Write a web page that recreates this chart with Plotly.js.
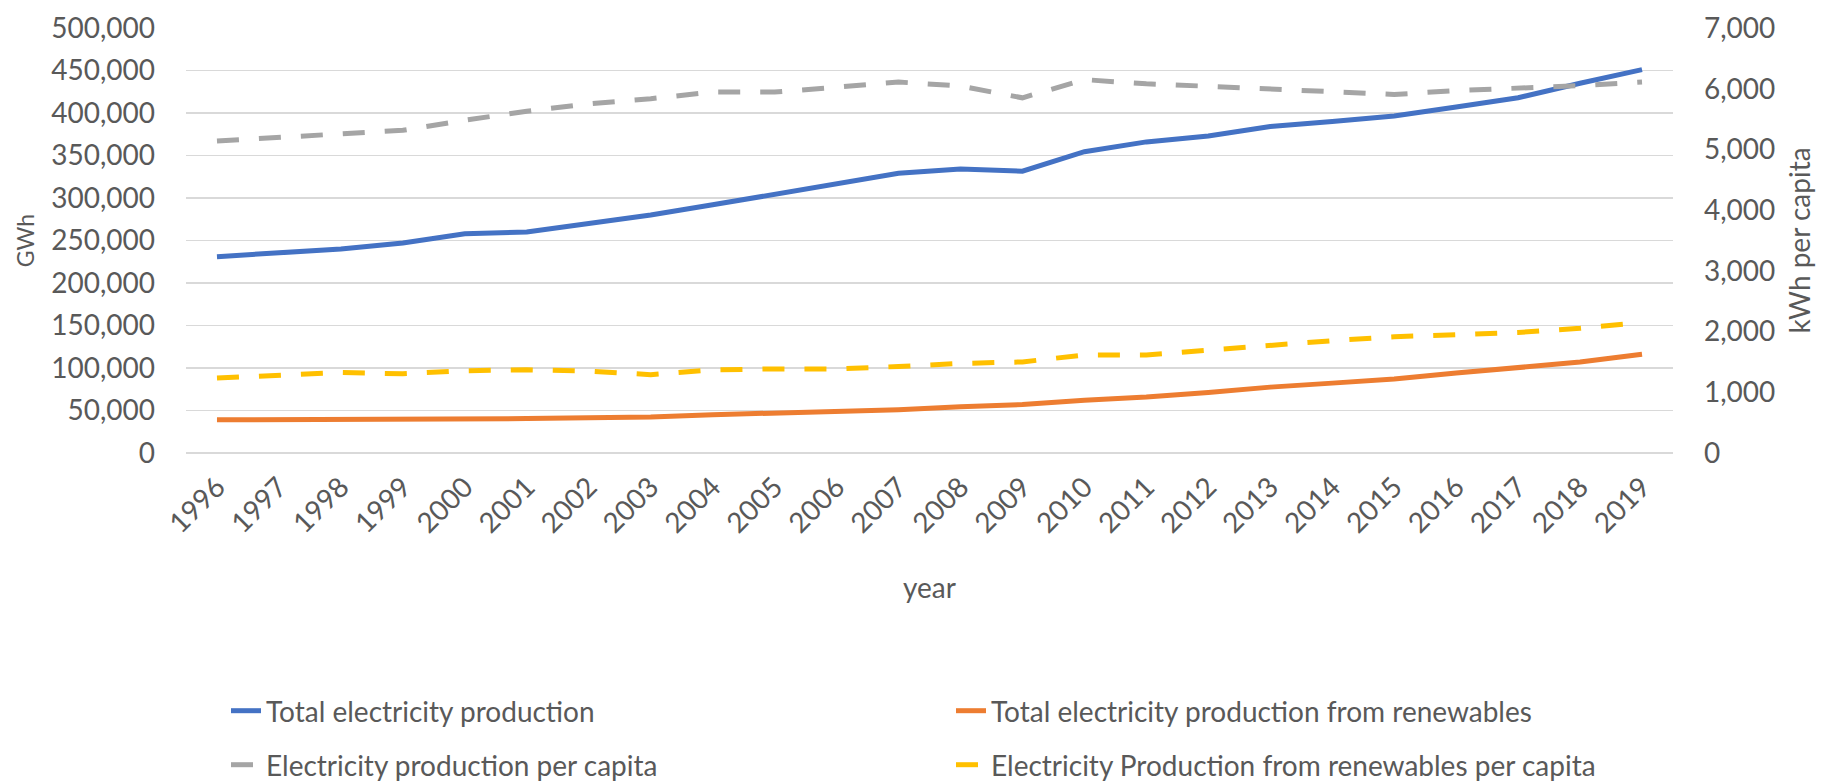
<!DOCTYPE html>
<html><head><meta charset="utf-8">
<script src="https://cdn.plot.ly/plotly-3.0.1.min.js"></script>
<style>html,body{margin:0;padding:0;background:#fff}</style>
</head><body>
<div id="chart" style="width:1821px;height:781px"></div>
<script>
const years = ["1996","1997","1998","1999","2000","2001","2002","2003","2004","2005","2006","2007",
               "2008","2009","2010","2011","2012","2013","2014","2015","2016","2017","2018","2019"];
const totalProduction = [231000,235000,240000,247000,258000,260000,270000,280000,292000,304000,316000,329000,
                         334000,331500,354500,366000,373000,384000,390000,396500,407000,418000,435000,451000];
const renewablesProduction = [39000,39300,39300,38800,39800,40500,41500,42300,45000,47000,49500,51000,
                              54500,57000,62000,65800,71300,77500,82200,87000,94000,100000,107000,116300];
const perCapita = [5140,5195,5260,5315,5480,5630,5750,5835,5945,5945,6025,6110,
                   6045,5850,6150,6080,6040,6000,5960,5905,5970,6000,6050,6110];
const renewablesPerCapita = [1235,1270,1325,1305,1355,1370,1350,1290,1370,1385,1385,1425,
                             1475,1500,1615,1615,1700,1780,1850,1915,1945,1985,2055,2150];
const seriesNames = ["Total electricity production","Total electricity production from renewables",
                     "Electricity production per capita","Electricity Production from renewables per capita"];

const FONT = "Lato, 'Open Sans', sans-serif";
const TXT = "#595959";

const traces = [
  {x: years, y: totalProduction, name: seriesNames[0], type: "scatter", mode: "lines",
   line: {color: "#4472C4", width: 5}, yaxis: "y", legend: "legend"},
  {x: years, y: renewablesProduction, name: seriesNames[1], type: "scatter", mode: "lines",
   line: {color: "#ED7D31", width: 5}, yaxis: "y", legend: "legend"},
  {x: years, y: perCapita, name: seriesNames[2], type: "scatter", mode: "lines",
   line: {color: "#A5A5A5", width: 5, dash: "22px,20px"}, yaxis: "y2", legend: "legend2"},
  {x: years, y: renewablesPerCapita, name: seriesNames[3], type: "scatter", mode: "lines",
   line: {color: "#FFC000", width: 5, dash: "22px,20px"}, yaxis: "y2", legend: "legend2"}
];

const legendCommon = {
  orientation: "h", entrywidth: 680, entrywidthmode: "pixels",
  x: (226 - 186) / 1487, xanchor: "left", yanchor: "middle",
  font: {family: FONT, size: 28, color: TXT}, bgcolor: "rgba(0,0,0,0)", traceorder: "normal"
};

const layout = {
  width: 1821, height: 781,
  margin: {l: 186, r: 148, t: 28, b: 328, autoexpand: false},
  paper_bgcolor: "#ffffff", plot_bgcolor: "#ffffff",
  font: {family: FONT, size: 28, color: TXT},
  showlegend: true,
  xaxis: {
    type: "category", range: [-0.5, 23.5], tickangle: -45, automargin: false,
    showgrid: false, zeroline: false, showline: false, ticks: "",
    ticklabelstandoff: 11,
    tickfont: {family: FONT, size: 28, color: TXT},
    title: {text: "year", font: {family: FONT, size: 28, color: TXT}, standoff: 40}
  },
  yaxis: {
    range: [0, 500000], dtick: 50000, tickformat: ",d", automargin: false,
    showgrid: true, gridcolor: "#D9D9D9", gridwidth: 1.3,
    zeroline: true, zerolinecolor: "#D9D9D9", zerolinewidth: 1.3,
    showline: false, ticks: "", ticklabelstandoff: 30,
    tickfont: {family: FONT, size: 28, color: TXT},
    title: {text: "GWh", font: {family: FONT, size: 23, color: TXT}, standoff: 10}
  },
  yaxis2: {
    overlaying: "y", side: "right", automargin: false,
    range: [0, 7000], dtick: 1000, tickformat: ",d",
    showgrid: false, zeroline: false, showline: false, ticks: "", ticklabelstandoff: 30,
    tickfont: {family: FONT, size: 28, color: TXT},
    title: {text: "kWh per capita", font: {family: FONT, size: 28, color: TXT}, standoff: 16}
  },
  legend: Object.assign({}, legendCommon, {y: (453 - 711) / 425}),
  legend2: Object.assign({}, legendCommon, {y: (453 - 765) / 425})
};

Plotly.newPlot("chart", traces, layout, {displayModeBar: false, staticPlot: true});
</script>
</body></html>
